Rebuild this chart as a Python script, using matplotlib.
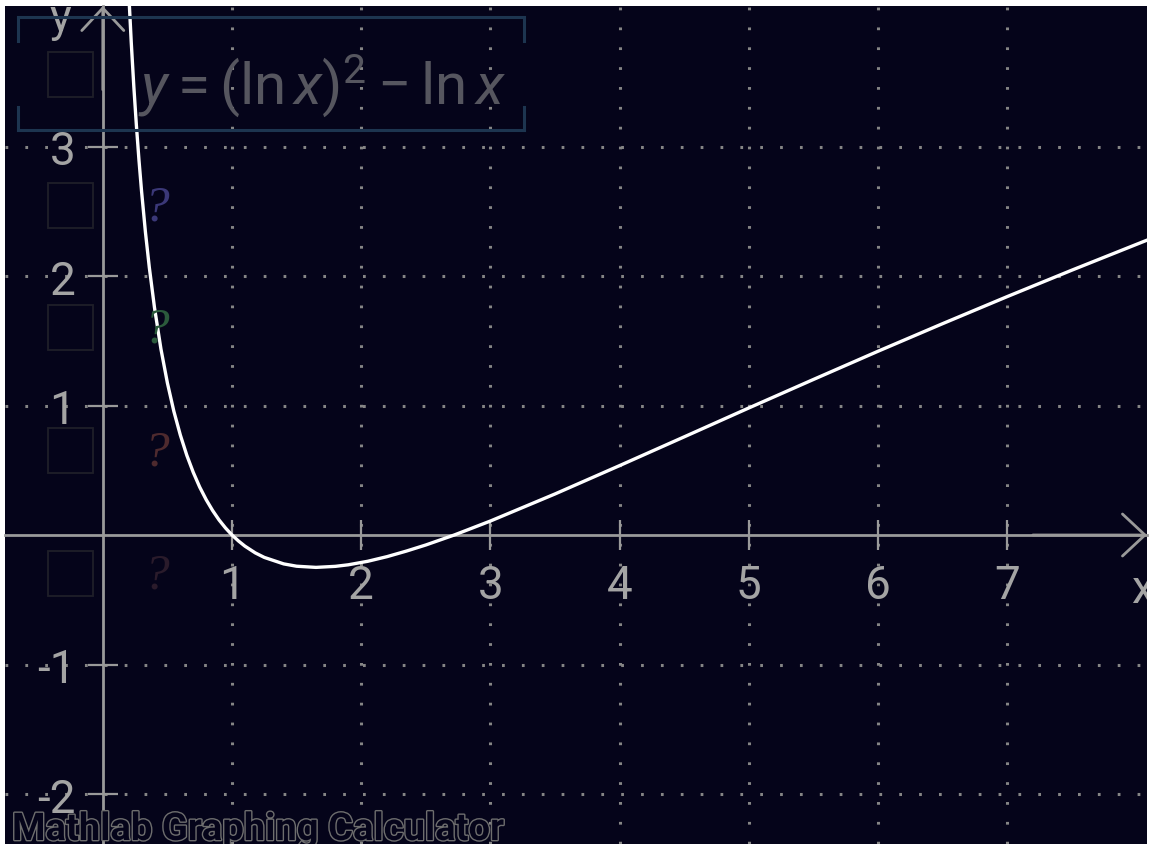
import matplotlib
matplotlib.use('Agg')
import matplotlib.pyplot as plt
import matplotlib.patheffects as pe
from matplotlib.lines import Line2D
from matplotlib.patches import Rectangle

# curve points (y = (ln x)^2 - ln x)
curve_x = [0.19, 0.20, 0.22, 0.24, 0.26, 0.28, 0.30, 0.33, 0.36, 0.40, 0.45, 0.50,
           0.55, 0.60, 0.65, 0.70, 0.75, 0.80, 0.85, 0.90, 0.95, 1.00, 1.05, 1.10,
           1.18, 1.25, 1.40, 1.50, 1.65, 1.80, 1.90, 2.05, 2.20, 2.35, 2.50, 2.72,
           3.00, 3.50, 4.00, 4.50, 5.00, 5.50, 6.00, 6.50, 7.00, 7.50, 8.10]
curve_y = [4.419, 4.200, 3.807, 3.464, 3.162, 2.894, 2.654, 2.338, 2.066, 1.756, 1.436, 1.174,
           0.955, 0.772, 0.616, 0.484, 0.370, 0.273, 0.189, 0.116, 0.054, 0.000, -0.046, -0.086,
           -0.138, -0.173, -0.223, -0.241, -0.250, -0.242, -0.230, -0.203, -0.167, -0.124, -0.077, 0.000,
           0.108, 0.317, 0.536, 0.758, 0.981, 1.201, 1.419, 1.632, 1.841, 2.045, 2.284]

x_ticks = [1, 2, 3, 4, 5, 6, 7]
y_ticks = [-2, -1, 1, 2, 3]
formula = r'$y=(\ln x)^2-\ln x$'
slot_colors = ['#3b3878', '#2b5a3c', '#4e2a2e', '#2a1b2b']
watermark = 'Mathlab Graphing Calculator'

BG = '#05041a'
AXC = '#9a9a9a'
GRID = '#858585'

plt.rcParams['font.family'] = ['Roboto', 'DejaVu Sans']
plt.rcParams['axes.unicode_minus'] = False
plt.rcParams['mathtext.fontset'] = 'custom'
plt.rcParams['mathtext.rm'] = 'Roboto'
plt.rcParams['mathtext.it'] = 'Roboto:italic'

W, H = 1150, 845


def fp(x, y):
    # pixel (from top-left) -> figure fraction
    return x / W, 1 - y / H


fig = plt.figure(figsize=(11.5, 8.45), dpi=100, facecolor='white')
ax = fig.add_axes([5 / W, 0, 1142 / W, 838 / H])
ax.set_facecolor(BG)
ax.set_xlim(-0.757, 8.082)
ax.set_ylim(-2.386, 4.085)

# dotted grid
for xv in x_ticks:
    ax.axvline(xv, color=GRID, lw=2.2, linestyle=(0, (0.9, 5.6)), zorder=1)
for yv in y_ticks:
    ax.axhline(yv, color=GRID, lw=2.2, linestyle=(0, (0.9, 5.6)), zorder=1)

# axes through origin
for s in ['top', 'right']:
    ax.spines[s].set_visible(False)
ax.spines['left'].set_position(('data', 0))
ax.spines['bottom'].set_position(('data', 0))
for s in ['left', 'bottom']:
    ax.spines[s].set_color(AXC)
    ax.spines[s].set_linewidth(2)
    ax.spines[s].set_zorder(2)

ax.set_xticks(x_ticks)
ax.set_xticklabels([str(v) for v in x_ticks])
ax.set_yticks(y_ticks)
ax.set_yticklabels([str(v) for v in y_ticks])
ax.tick_params(direction='inout', length=21.6, width=1.6, color=AXC,
               labelcolor='#a4a4a4', labelsize=33, pad=9)

# arrow heads
ax.annotate('', xy=(1.0, 0), xycoords=('axes fraction', 'data'),
            xytext=(0.9, 0), textcoords=('axes fraction', 'data'),
            arrowprops=dict(arrowstyle='->,head_length=0.45,head_width=0.42',
                            color=AXC, lw=2, mutation_scale=36, shrinkA=0, shrinkB=0))
ax.annotate('', xy=(0, 1.0), xycoords=('data', 'axes fraction'),
            xytext=(0, 0.9), textcoords=('data', 'axes fraction'),
            arrowprops=dict(arrowstyle='->,head_length=0.45,head_width=0.42',
                            color=AXC, lw=2, mutation_scale=36, shrinkA=0, shrinkB=0))
ax.text(-0.33, 3.89, 'y', color='#a4a4a4', fontsize=33, ha='center',
        va='baseline', clip_on=True)
ax.text(8.05, -0.52, 'x', color='#a4a4a4', fontsize=33, ha='center',
        va='baseline', clip_on=True)

# the function
ax.plot(curve_x, curve_y, color='white', lw=2.4, zorder=5, solid_joinstyle='round')

# legend panel
BOX = '#1d3550'
bx0, by0, bx1, by1 = 18, 18, 524, 131
for seg in [((bx0, by0), (bx1, by0)), ((bx0, by1), (bx1, by1)),
            ((bx0, by0), (bx0, 42)), ((bx0, 108), (bx0, by1)),
            ((bx1, by0), (bx1, 42)), ((bx1, 108), (bx1, by1))]:
    (xa, ya), (xb, yb) = seg
    p0, p1 = fp(xa, ya), fp(xb, yb)
    fig.add_artist(Line2D([p0[0], p1[0]], [p0[1], p1[1]], color=BOX, lw=2.2))

slot_tops = [53, 184, 306, 429, 552]
for i, top in enumerate(slot_tops):
    x0, y0 = fp(48, top + 45)
    fig.add_artist(Rectangle((x0, y0), 45 / W, 45 / H, fill=False,
                             edgecolor='#1f1f29', lw=1.3))
    if i > 0:
        cx, cy = fp(157, top + 24)
        fig.text(cx, cy, '?', color=slot_colors[i - 1], fontsize=37,
                 family='Liberation Serif', style='italic', ha='center', va='center')

fx, fy = fp(138, 104)
fig.text(fx, fy, formula, color='#56565f', fontsize=42, ha='left', va='baseline')

# watermark
wx, wy = fp(12, 841)
fig.text(wx, wy, watermark, color=BG, fontsize=27.5, fontweight='semibold', ha='left',
         va='baseline', path_effects=[pe.withStroke(linewidth=2.0, foreground='#6e6e6e')])

fig.savefig('out.png', dpi=100, facecolor='white')
